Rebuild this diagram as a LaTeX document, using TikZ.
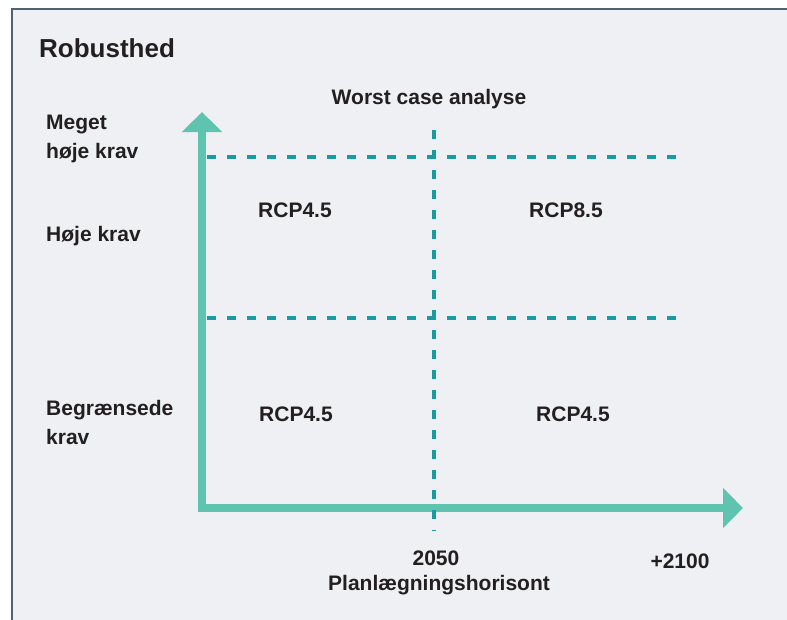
\documentclass[tikz,border=0pt]{standalone}
\usepackage{fontspec}
\setmainfont{Liberation Sans}
\usepackage{xcolor}
\usetikzlibrary{arrows.meta,positioning}

\definecolor{axisgreen}{HTML}{5FC4AF}
\definecolor{dashteal}{HTML}{1A9AA3}
\definecolor{panelgray}{HTML}{EEF0F3}
\definecolor{panelline}{HTML}{4D6373}
\definecolor{inkdark}{HTML}{231F20}

\begin{document}
\begin{tikzpicture}[
    x=1pt, y=-1pt,
    axis/.style={line width=8pt, draw=axisgreen, line join=miter,
        {Triangle[length=20pt, width=39pt]}-{Triangle[length=20pt, width=39pt]}},
    guide/.style={line width=4.5pt, draw=dashteal, dash pattern=on 9pt off 11pt},
    lbl/.style={inner sep=0pt, text=inkdark, font=\fontsize{21}{28.5}\selectfont\bfseries},
    leftlbl/.style={lbl, anchor=base west, align=left},
    midlbl/.style={lbl, anchor=base}
]
\useasboundingbox (0,0) rectangle (787,619);
\clip (0,0) rectangle (787,619);

% Panel
\fill[white] (0,0) rectangle (787,619);
\draw[fill=panelgray, draw=panelline, line width=2pt] (12,9) rectangle (810,640);

% Title
\node[lbl, anchor=base west, font=\fontsize{26}{30}\selectfont\bfseries] (title) at (39,57) {Robusthed};

% Axes
\coordinate (origin) at (202,508);
\coordinate (ytop) at (202,112);
\coordinate (xend) at (743,508);
\draw[axis] (ytop) -- (origin) -- (xend);

% Dashed guides
\coordinate (hiA) at (207,157);
\coordinate (hiB) at (678,157);
\coordinate (loA) at (207,318);
\coordinate (loB) at (678,318);
\coordinate (vtop) at (434,130);
\coordinate (vbot) at (434,531);
\draw[guide] (hiA) -- (hiB);
\draw[guide] (loA) -- (loB);
\draw[guide] (vtop) -- (vbot);

% Y labels (base = last line)
\node[leftlbl] (meget) at (46,158) {Meget\\høje krav};
\node[leftlbl] (hoeje) at (46,241) {Høje krav};
\node[leftlbl] (begr) at (46,444) {Begrænsede\\krav};

% Cells
\node[midlbl] (worst) at (429,104) {Worst case analyse};
\node[midlbl] (cellTL) at (295,217) {RCP4.5};
\node[midlbl] (cellTR) at (566,217) {RCP8.5};
\node[midlbl] (cellBL) at (296,421) {RCP4.5};
\node[midlbl] (cellBR) at (573,421) {RCP4.5};

% X labels
\node[midlbl] (y2050) at (436,565) {2050};
\node[midlbl] (horizon) at (439,590) {Planlægningshorisont};
\node[midlbl] (y2100) at (680,568) {+2100};

\end{tikzpicture}
\end{document}
